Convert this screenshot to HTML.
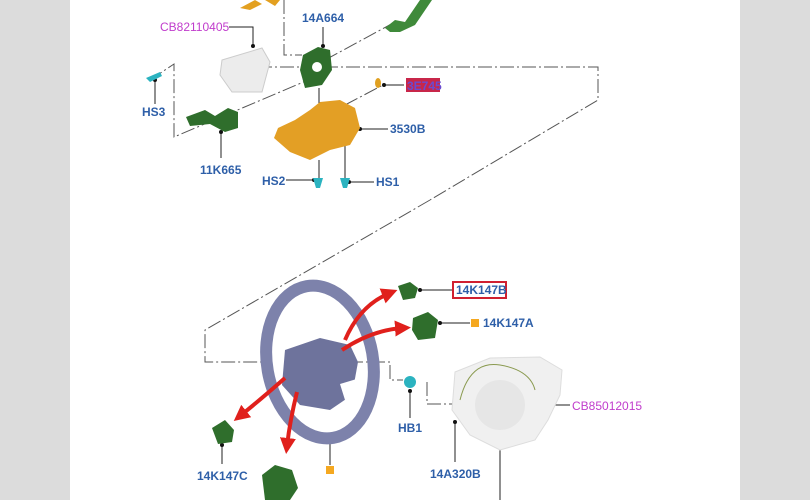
<!DOCTYPE html>
<html><head><meta charset="utf-8"><style>
html,body{margin:0;padding:0;background:#dcdcdc;}
svg{display:block}
text{font-family:"Liberation Sans",Arial,sans-serif;font-weight:bold;font-size:12px;fill:#2e5fa8}
.m{fill:#c03ccc;font-weight:normal}
</style></head><body>
<svg width="810" height="500" viewBox="0 0 810 500" xmlns="http://www.w3.org/2000/svg">
<rect x="0" y="0" width="810" height="500" fill="#dcdcdc"/>
<rect x="70" y="0" width="670" height="500" fill="#fff"/>
<defs>
<marker id="ah" markerWidth="4" markerHeight="4" refX="2" refY="2" orient="auto"><path d="M0,0 L4,2 L0,4 z" fill="#e0201c"/></marker>
</defs>
<g fill="none" stroke="#555" stroke-width="1" stroke-dasharray="14,3,2,3">
<polyline points="284,0 284,55 302,55"/>
<polyline points="236,67 598,67 598,100 430,200"/>
<polyline points="430,200 205,330 205,362 262,362"/>
<polyline points="305,362 390,362 390,380 403,380"/>
<polyline points="427,382 427,404 452,404"/>
<polyline points="325,60 395,22"/>
<polyline points="150,80 174,64 174,137 320,75"/>
<polyline points="345,105 383,85"/>
</g>
<g stroke="#222" stroke-width="1" fill="none">
<polyline points="229,27 253,27 253,46"/><line x1="323" y1="27" x2="323" y2="46"/>
<line x1="155" y1="80" x2="155" y2="104"/><line x1="221" y1="132" x2="221" y2="158"/>
<line x1="384" y1="85" x2="404" y2="85"/><line x1="360" y1="129" x2="388" y2="129"/>
<line x1="286" y1="180" x2="314" y2="180"/><line x1="349" y1="182" x2="374" y2="182"/>
<line x1="319" y1="88" x2="319" y2="108"/><line x1="319" y1="160" x2="319" y2="178"/><line x1="345" y1="145" x2="345" y2="178"/>
<line x1="420" y1="290" x2="453" y2="290"/><line x1="440" y1="323" x2="470" y2="323"/>
<line x1="222" y1="445" x2="222" y2="464"/><line x1="330" y1="436" x2="330" y2="465"/>
<line x1="410" y1="391" x2="410" y2="418"/><line x1="455" y1="422" x2="455" y2="462"/>
<line x1="545" y1="405" x2="570" y2="405"/><line x1="500" y1="442" x2="500" y2="500"/>
</g>
<g fill="#111">
<circle cx="253" cy="46" r="2"/><circle cx="323" cy="46" r="2"/><circle cx="155" cy="80" r="2"/><circle cx="221" cy="132" r="2"/>
<circle cx="384" cy="85" r="2"/><circle cx="360" cy="129" r="2"/><circle cx="314" cy="180" r="2"/><circle cx="349" cy="182" r="2"/>
<circle cx="420" cy="290" r="2"/><circle cx="440" cy="323" r="2"/><circle cx="222" cy="445" r="2"/><circle cx="330" cy="436" r="2"/>
<circle cx="410" cy="391" r="2"/><circle cx="455" cy="422" r="2"/><circle cx="545" cy="405" r="2"/><circle cx="500" cy="442" r="2"/>
</g>
<path d="M240,8 L255,0 L262,4 L250,10z M265,0 L280,0 L275,6z" fill="#e3a020"/>
<path d="M385,28 L395,20 L405,22 L420,0 L432,0 L415,25 L400,32 L390,32z" fill="#3f8a3a"/>
<path d="M222,60 L262,48 L270,62 L262,92 L232,92 L220,75z" fill="#ececec" stroke="#ccc"/>
<path d="M303,55 L318,47 L330,50 L332,70 L322,85 L305,88 L300,70z" fill="#2f6e2c"/>
<circle cx="317" cy="67" r="5" fill="#fff"/>
<path d="M146,78 L160,72 L162,76 L150,82z" fill="#2bb3c0"/>
<path d="M186,117 L205,110 L215,116 L228,108 L238,112 L238,128 L225,132 L210,124 L190,126z" fill="#2f6e2c"/>
<ellipse cx="378" cy="83" rx="3" ry="5" fill="#e0a020"/>
<path d="M278,128 L295,120 L310,110 L320,102 L340,100 L355,108 L360,128 L350,145 L330,150 L310,160 L290,152 L274,138z" fill="#e39f25"/>
<path d="M313,178 L323,178 L320,188 L316,188z M340,178 L350,178 L347,188 L343,188z" fill="#2bb3c0"/>
<ellipse cx="320" cy="362" rx="53" ry="77" fill="none" stroke="#7d82ab" stroke-width="12" transform="rotate(-10 320 362)"/>
<path d="M285,350 L320,338 L350,345 L358,362 L352,395 L330,410 L300,405 L282,385z" fill="#6e739c"/>
<path d="M340,384 L360,378 L362,390 L345,400z" fill="#fff"/>
<g stroke="#e0201c" stroke-width="4" fill="none" marker-end="url(#ah)">
<path d="M345,340 Q360,305 390,293"/><path d="M342,350 Q372,330 403,328"/>
<path d="M285,378 Q260,400 240,416"/><path d="M297,392 Q290,420 287,446"/>
</g>
<path d="M398,286 L410,282 L418,288 L415,298 L403,300z" fill="#2f6e2c"/>
<path d="M413,318 L428,312 L438,320 L435,338 L418,340 L412,330z" fill="#2f6e2c"/>
<path d="M212,428 L225,420 L234,430 L232,442 L218,444z" fill="#2f6e2c"/>
<path d="M262,475 L275,465 L292,470 L298,488 L290,500 L265,500z" fill="#2f6e2c"/>
<circle cx="410" cy="382" r="6" fill="#2bb3c0"/>
<rect x="471" y="319" width="8" height="8" fill="#f5a820"/><rect x="326" y="466" width="8" height="8" fill="#f5a820"/>
<path d="M455,372 L490,358 L540,357 L562,370 L560,395 L548,420 L535,440 L500,450 L470,435 L452,410z" fill="#f0f0f0" stroke="#ddd"/>
<ellipse cx="500" cy="405" rx="25" ry="25" fill="#e6e6e6"/>
<path d="M460,400 Q470,360 500,365 Q530,370 535,390" fill="none" stroke="#8a9a50"/>
<text x="302" y="22">14A664</text>
<text x="160" y="31" class="m">CB82110405</text>
<text x="142" y="116">HS3</text>
<text x="200" y="174">11K665</text>
<rect x="406" y="78" width="34" height="14" fill="#c8264a"/>
<text x="407" y="90" style="fill:#6a4ad0">3E745</text>
<text x="390" y="133">3530B</text>
<text x="262" y="185">HS2</text>
<text x="376" y="186">HS1</text>
<rect x="453" y="282" width="53" height="16" fill="none" stroke="#d02030" stroke-width="2"/>
<text x="456" y="294">14K147B</text>
<text x="483" y="327">14K147A</text>
<text x="197" y="480">14K147C</text>
<text x="398" y="432">HB1</text>
<text x="430" y="478">14A320B</text>
<text x="572" y="410" class="m">CB85012015</text>
</svg>
</body></html>
